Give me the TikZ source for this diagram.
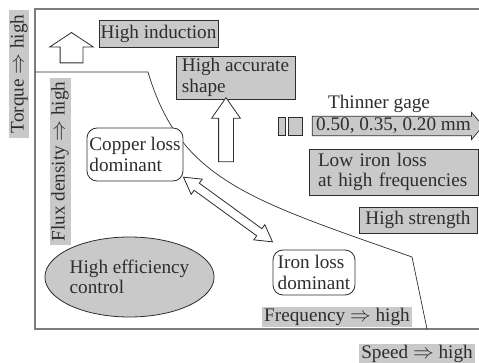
\documentclass[tikz,border=0pt]{standalone}
\usepackage{fontspec}
\setmainfont{Liberation Serif}
\usetikzlibrary{shapes.arrows,shapes.geometric,calc}

\definecolor{boxgray}{RGB}{201,201,201}
\definecolor{inkgray}{RGB}{45,45,45}
\definecolor{framegray}{RGB}{125,125,125}

\begin{document}
\begin{tikzpicture}[x=1pt,y=-1pt,
  every node/.style={font=\rmfamily\fontsize{19.2}{20.5}\selectfont, text=inkgray},
  gbox/.style={draw=inkgray, fill=boxgray, inner sep=0pt, line width=0.9pt},
  glab/.style={fill=boxgray, inner sep=0pt},
  rbox/.style={draw=inkgray, fill=white, rounded corners=10pt, inner sep=0pt, line width=0.8pt, align=left},
  harrow/.style={draw=inkgray, fill=white, line width=0.8pt}]
  \useasboundingbox (0,0) rectangle (479,363);

  % frame and limit curve
  \draw[framegray, line width=1.6pt] (479,9) -- (35,9) -- (35,329) -- (479,329);
  \draw[inkgray, line width=0.7pt] (35,72) -- (148,72) .. controls (180,180) and (250,200) .. (412,257) -- (427,329);

  % axis labels
  \node[glab, rotate=90, minimum width=128, minimum height=20] (torque) at (19,74) {Torque $\Rightarrow$ high};
  \node[glab, rotate=90, minimum width=167, minimum height=21] (flux) at (60,161.5) {Flux density $\Rightarrow$ high};
  \node[glab, minimum width=150, minimum height=20] (freq) at (337,317) {Frequency $\Rightarrow$ high};
  \node[glab, minimum width=116, minimum height=19] (speed) at (417,353.5) {Speed $\Rightarrow$ high};

  % material requirements
  \node[gbox, minimum width=119, minimum height=27] (induct) at (158.5,33.5) {High induction};
  \node[harrow, single arrow, shape border rotate=90, inner sep=11pt, minimum height=27,
        single arrow head extend=10.5pt, single arrow tip angle=113] (upinduct) at (71.5,51.5) {};
  \node[gbox, minimum width=119, minimum height=43, align=left] (accur) at (235.5,77.5) {High accurate\\shape};
  \node[harrow, single arrow, shape border rotate=90, inner sep=7pt, minimum height=64,
        single arrow head extend=7pt, single arrow tip angle=70] (upaccur) at (226,135) {};

  \node (thinner) at (379,104) {Thinner gage};
  \node[gbox, line width=0.7pt, minimum width=7, minimum height=18] (gage1) at (281.5,126) {};
  \node[gbox, line width=0.7pt, minimum width=14, minimum height=18] (gage2) at (295,126) {};
  \node[gbox, line width=0.7pt, single arrow, minimum height=171, inner ysep=1.5pt,
        single arrow head extend=4pt, single arrow tip angle=99] (gage) at (393.5,126) {0.50, 0.35, 0.20 mm};
  \node[gbox, inner xsep=9pt, text width=151pt, minimum height=46, align=left] (lowloss) at (393.5,172) {Low iron loss\\at high frequencies};
  \node[gbox, minimum width=118, minimum height=26] (strength) at (418,220) {High strength};

  % loss regions
  \node[rbox, minimum width=96, minimum height=53] (copper) at (135,154.5) {Copper loss\\dominant};
  \node[rbox, minimum width=82, minimum height=45] (iron) at (314,272.5) {Iron loss\\dominant};
  \node[harrow, double arrow, rotate=-36, inner sep=4pt, minimum height=110,
        double arrow head extend=5pt, double arrow tip angle=60] (trade) at ($(copper.south east)!0.5!(iron.north west)+(0,-6)$) {};

  \node[ellipse, draw=inkgray, fill=boxgray, line width=0.8pt, inner sep=0pt, minimum width=147, minimum height=80, align=left] (effic) at (129.5,277) {High efficiency\\control};
\end{tikzpicture}
\end{document}
